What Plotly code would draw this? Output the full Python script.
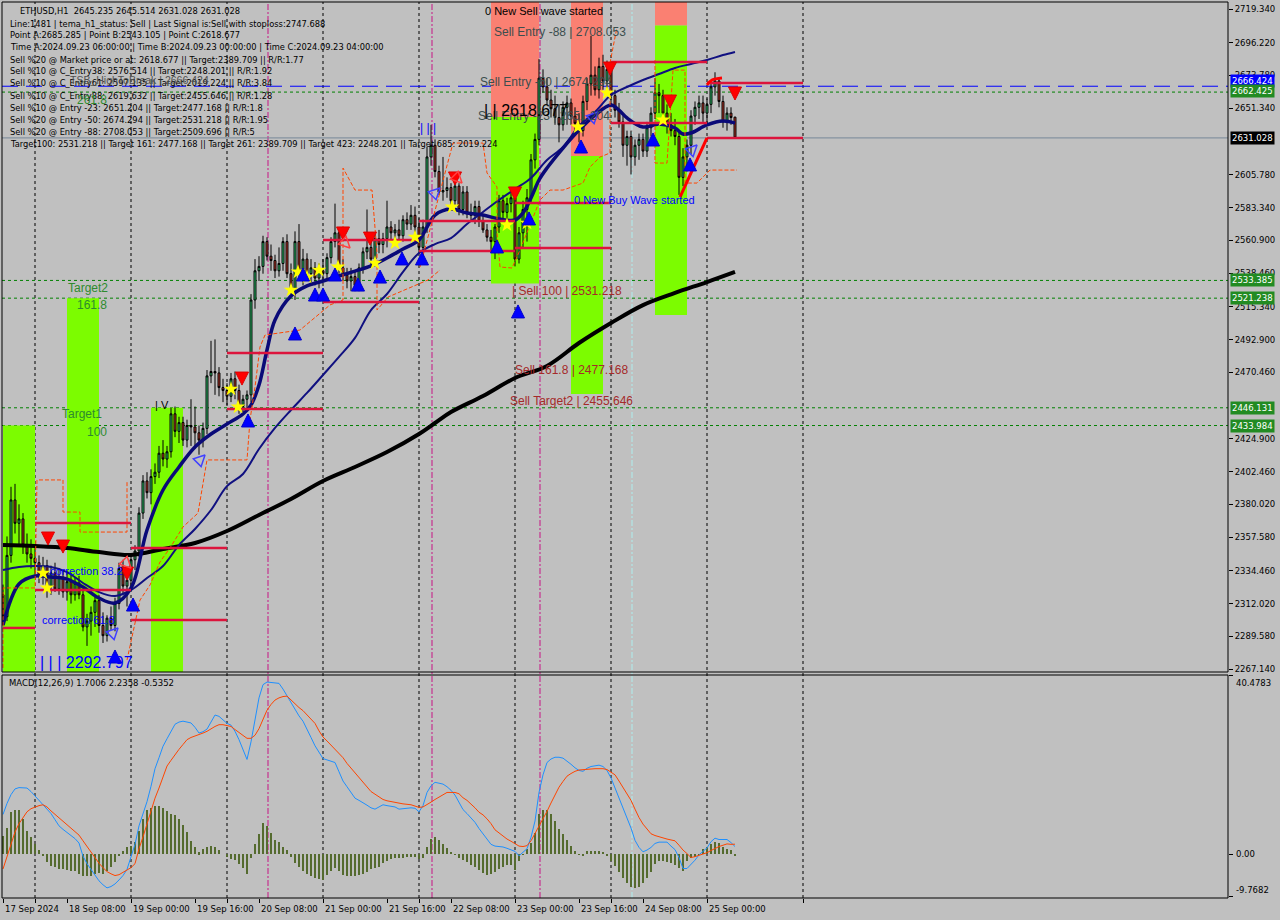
import plotly.graph_objects as go

# ---------------- DATA ----------------
opens = [2318,2303,2345,2383,2367,2370,2352,2346,2343,2340, 2331,2338,2324,2333,2322,2330,2320,2327,2318,2326,
         2318,2296,2300,2306,2314,2297,2290,2302,2297,2312, 2336,2324,2328,2342,2348,2374,2396,2388,2399,2402,
         2415,2411,2416,2442,2430,2436,2424,2434,2433,2429, 2424,2432,2468,2471,2470,2460,2458,2454,2466,2458,
         2447,2452,2455,2520,2540,2543,2560,2550,2547,2540, 2545,2560,2538,2528,2560,2540,2548,2538,2542,2535,
         2540,2538,2549,2560,2566,2542,2537,2533,2536,2530, 2542,2553,2556,2548,2562,2558,2562,2570,2566,2568,
         2564,2575,2572,2578,2570,2556,2570,2618,2626,2608, 2594,2595,2597,2588,2598,2582,2594,2580,2578,2584,
         2574,2568,2563,2560,2570,2588,2580,2586,2590,2548, 2566,2582,2590,2616,2630,2672,2666,2657,2651,2645,
         2640,2652,2655,2646,2641,2636,2656,2668,2674,2664, 2680,2670,2678,2660,2650,2642,2626,2632,2618,2626,
         2630,2622,2638,2648,2662,2660,2648,2640,2636,2632, 2604,2618,2626,2646,2652,2655,2648,2654,2666,2670,
         2656,2642,2648,2645.235]
highs = [2325,2358,2392,2394,2380,2374,2360,2356,2350,2345, 2344,2342,2338,2340,2336,2335,2334,2333,2330,2331,
         2322,2305,2310,2318,2318,2306,2304,2310,2316,2340, 2342,2332,2346,2352,2378,2400,2402,2404,2408,2420,
         2424,2420,2446,2447,2440,2440,2438,2452,2447,2434, 2436,2472,2492,2493,2474,2466,2463,2470,2471,2462,
         2455,2458,2524,2548,2550,2564,2563,2558,2551,2556, 2563,2565,2545,2567,2572,2555,2552,2548,2546,2545,
         2548,2552,2563,2586,2570,2548,2542,2542,2540,2545, 2556,2582,2562,2566,2568,2566,2588,2574,2572,2575,
         2578,2580,2585,2584,2576,2575,2625,2640,2630,2612, 2618,2604,2600,2604,2600,2598,2598,2586,2588,2588,
         2578,2572,2568,2572,2592,2592,2590,2596,2596,2570, 2588,2596,2620,2634,2685,2678,2672,2664,2660,2654,
         2656,2660,2658,2652,2648,2660,2672,2701,2680,2686, 2688,2684,2682,2664,2655,2646,2636,2636,2630,2634,
         2634,2642,2652,2672,2668,2664,2654,2648,2644,2636, 2624,2630,2650,2656,2660,2660,2658,2670,2676,2672,
         2660,2652,2652,2645.514]
lows = [2297,2300,2340,2360,2352,2346,2340,2336,2332,2326, 2325,2316,2318,2320,2318,2316,2314,2312,2314,2315,
        2293,2283,2290,2296,2292,2285,2286,2294,2293,2308, 2318,2310,2322,2335,2344,2370,2384,2380,2394,2398,
        2406,2405,2412,2426,2422,2420,2419,2420,2418,2414, 2419,2428,2463,2455,2454,2450,2448,2450,2452,2442,
        2442,2446,2450,2514,2533,2538,2547,2540,2535,2536, 2540,2535,2524,2520,2535,2530,2534,2530,2530,2528,
        2532,2534,2545,2556,2538,2533,2528,2526,2526,2526, 2538,2548,2544,2543,2552,2552,2556,2560,2558,2560,
        2560,2568,2568,2566,2552,2550,2566,2612,2604,2592, 2588,2590,2585,2584,2578,2578,2576,2574,2572,2570,
        2566,2560,2553,2548,2566,2576,2574,2580,2543,2545, 2555,2560,2586,2610,2626,2662,2654,2645,2640,2628,
        2636,2640,2640,2636,2628,2632,2650,2660,2660,2658, 2664,2662,2652,2645,2638,2618,2612,2606,2612,2616,
        2618,2618,2632,2644,2648,2642,2634,2632,2626,2592, 2598,2608,2620,2640,2644,2642,2640,2648,2660,2652,
        2638,2636,2640,2631.028]
closes = [2303,2345,2383,2367,2370,2352,2346,2343,2340,2331, 2338,2324,2333,2322,2330,2320,2327,2318,2326,2318,
          2296,2300,2306,2314,2297,2290,2302,2297,2312,2336, 2324,2328,2342,2348,2374,2396,2388,2399,2402,2415,
          2411,2416,2442,2430,2436,2424,2434,2433,2429,2424, 2432,2468,2471,2470,2460,2458,2454,2466,2458,2447,
          2452,2455,2520,2540,2543,2560,2550,2547,2540,2545, 2560,2538,2528,2560,2540,2548,2538,2542,2535,2540,
          2538,2549,2560,2566,2542,2537,2533,2536,2530,2542, 2553,2556,2548,2562,2558,2562,2570,2566,2568,2564,
          2575,2572,2578,2570,2556,2570,2618,2626,2608,2594, 2595,2597,2588,2598,2582,2594,2580,2578,2584,2574,
          2568,2563,2560,2570,2588,2580,2586,2590,2548,2566, 2582,2590,2616,2630,2672,2666,2657,2651,2645,2640,
          2652,2655,2646,2641,2636,2656,2668,2674,2664,2680, 2670,2678,2660,2650,2642,2626,2632,2618,2626,2630,
          2622,2638,2648,2662,2660,2648,2640,2636,2632,2604, 2618,2626,2646,2652,2655,2648,2654,2666,2670,2656,
          2642,2648,2645,2631.028]
bars = list(range(len(closes)))

macd_main = [9.0,11.5,13.5,14.8,15.1,15.1,15.0,14.2,13.2,12.4, 11.4,10.4,9.2,7.8,6.4,5.6,4.9,4.2,3.5,2.5,
             -0.5,-2.2,-3.6,-4.9,-6.1,-7.0,-7.7,-7.4,-6.8,-5.9, -4.9,-3.5,-0.8,2.2,6.4,9.3,11.9,15.4,19.4,21.9,
             24.5,26.2,28.0,29.5,30.0,30.2,30.0,29.8,28.8,27.5, 27.8,28.4,30.0,31.6,31.3,30.6,29.7,29.3,27.9,26.0,
             23.9,21.5,25.5,31.0,35.5,38.5,39.1,39.0,38.9,38.8, 37.5,36.0,34.3,32.8,31.4,30.2,28.5,26.5,24.6,23.0,
             21.7,21.4,21.1,20.8,18.7,16.6,15.3,14.0,12.7,12.2, 11.7,11.1,10.5,10.2,10.7,11.2,11.0,10.9,10.7,10.2,
             10.3,10.5,10.5,10.4,9.6,11.0,14.0,15.5,16.3,16.1, 15.9,15.3,14.5,13.4,11.8,10.1,9.2,8.2,7.2,5.8,
             4.6,3.4,2.2,1.8,1.7,1.6,1.3,1.0,0.6,-0.4, 0.3,1.2,3.8,7.5,14.0,18.0,20.8,21.6,22.0,22.0,
             21.8,21.2,20.4,19.6,19.0,18.8,19.5,19.9,20.0,20.2, 19.9,19.0,17.3,15.1,12.8,10.6,8.4,5.9,3.1,1.5,
             0.5,0.9,1.5,2.4,2.7,2.7,2.7,1.8,1.0,-0.8, -3.3,-3.3,-2.4,-1.4,-0.2,0.6,1.4,2.8,3.6,3.3,
             3.3,3.3,2.6,1.7006]
macd_signal = [-3.4,-0.5,2.5,5.0,6.9,8.2,9.6,10.3,10.7,11.0, 11.2,10.7,9.8,9.0,8.1,7.4,6.5,5.7,5.1,4.3,
               3.0,1.7,0.3,-1.0,-2.1,-3.1,-4.0,-4.5,-4.9,-4.7, -4.2,-3.6,-3.1,-2.2,1.2,3.9,6.8,9.5,12.7,15.0,
               17.6,20.0,21.3,22.7,23.8,24.9,26.0,26.5,26.8,27.1, 27.5,27.9,28.5,29.0,29.4,29.4,29.2,29.0,28.3,27.6,
               27.0,26.3,26.3,27.0,28.5,30.7,32.7,34.0,35.0,35.5, 35.8,35.9,35.0,34.2,33.3,32.6,31.7,30.7,29.7,28.0,
               26.6,25.7,24.8,23.9,23.0,21.9,20.6,19.5,18.4,17.4, 16.2,15.1,14.2,13.6,13.0,12.4,12.1,11.9,11.7,11.5,
               11.4,11.3,11.2,10.9,10.6,10.7,11.2,11.8,12.4,12.9, 13.5,14.0,14.0,14.0,13.7,12.8,12.2,11.4,10.5,9.5,
               8.9,8.0,6.9,5.5,4.8,4.0,3.4,2.9,2.3,1.8, 1.7,1.9,3.0,4.6,6.5,8.0,9.7,11.6,13.5,15.2,
               16.5,17.7,18.3,18.8,19.1,19.2,19.3,19.4,19.4,19.4, 19.4,19.2,18.6,18.0,16.6,15.2,13.6,12.2,10.2,8.3,
               6.8,5.6,4.6,4.2,3.9,3.7,3.4,3.2,3.0,2.0, 0.9,0.1,-0.8,-0.6,-0.3,0.1,0.3,0.8,1.3,1.7,
               2.0,2.3,2.2,2.2358]
macd_hist = [4.2,6.0,9.6,10.1,10.0,8.0,5.3,3.8,2.2,1.0, -0.4,-1.8,-2.7,-3.0,-3.4,-3.5,-3.6,-3.9,-3.9,-4.5,
             -5.0,-5.1,-4.9,-4.6,-4.3,-4.5,-3.8,-2.9,-1.9,-0.5, 0.6,1.6,1.9,2.8,5.3,8.0,10.0,10.5,10.9,10.9,
             10.4,9.8,9.2,8.8,7.9,6.7,5.0,3.0,1.6,0.4, 1.1,1.7,1.9,1.7,1.0,0.0,-0.6,-1.1,-1.4,-2.2,
             -3.2,-4.5,-1.0,2.2,4.6,7.0,6.4,4.8,3.3,2.7, 1.6,0.9,-0.6,-2.0,-2.9,-3.9,-4.5,-5.1,-5.5,-5.6,
             -5.8,-4.8,-3.8,-3.2,-3.8,-4.8,-5.0,-5.0,-5.0,-4.8, -4.5,-4.2,-3.5,-3.2,-2.9,-2.1,-1.6,-1.2,-0.9,-0.8,
             -0.8,-0.7,-0.6,-0.6,-1.1,-0.9,1.5,3.4,3.8,3.1, 2.3,1.4,0.5,-0.2,-0.9,-1.3,-1.9,-2.6,-3.0,-3.6,
             -4.4,-4.7,-4.6,-4.0,-3.4,-2.9,-2.5,-2.4,-3.6,-1.6, -0.1,1.2,2.4,4.7,9.0,10.1,10.1,9.1,7.4,5.8,
             4.6,3.2,1.9,0.6,-0.2,-0.3,0.8,0.6,0.6,0.7, 0.5,-0.3,-1.6,-2.8,-4.2,-5.4,-6.5,-7.4,-7.8,-7.5,
             -6.5,-5.5,-4.0,-2.3,-1.6,-1.6,-1.8,-2.1,-2.4,-3.1, -3.8,-1.5,-1.0,-0.7,-0.2,1.2,1.5,2.3,2.7,2.4,
             1.6,1.2,0.9,-0.5352]

# moving averages (sampled bar index, price)
fast_ma_idx = [0,4,8,12,16,20,24,28,32,36,40,44,48,52,56,60,62,64,66,68,72,76,80,84,88,92,96,100,104,108,112,116,
               120,124,128,130,132,134,136,140,144,148,152,154,156,160,164,168,170,172,176,180,183]
fast_ma_val = [2297.3,2325.4,2330.9,2330.2,2328.8,2323.3,2315.8,2312.4,2322.6,2362.4,2389.8,2405.6,2419.3,2428.2,
               2435.0,2441.9,2448.0,2461.7,2485.7,2506.3,2522.7,2529.6,2533.0,2536.4,2539.8,2543.3,2548.8,2554.9,
               2561.1,2578.2,2582.3,2579.6,2578.2,2575.5,2574.8,2579.6,2589.9,2602.2,2610.4,2624.1,2636.4,2646.7,
               2653.6,2650.1,2644.7,2638.5,2640.6,2637.8,2633.7,2634.4,2639.9,2642.6,2641.2]
slow_ma_idx = [0,4,8,12,16,20,24,28,32,36,40,44,48,52,56,60,64,68,72,76,80,84,88,92,96,100,104,108,112,116,120,124,
               128,132,136,140,144,148,152,156,160,164,168,172,176,180,183]
slow_ma_val = [2335.0,2337.1,2337.7,2337.1,2333.6,2326.1,2319.9,2317.2,2321.3,2329.5,2337.7,2352.1,2363.1,2376.1,
               2392.5,2400.8,2417.9,2432.3,2444.6,2456.3,2468.6,2481.0,2494.0,2513.1,2524.1,2539.2,2552.2,2558.3,
               2562.4,2572.0,2580.3,2588.5,2596.0,2603.6,2615.9,2624.8,2639.2,2648.8,2660.4,2665.9,2670.7,2674.8,
               2678.9,2681.7,2684.4,2687.8,2689.9]
ma200_idx = [0,8,16,24,32,40,48,56,64,72,80,88,96,104,108,112,120,128,136,144,152,160,168,176,183]
ma200_val = [2352.1,2351.4,2350.1,2347.3,2345.3,2349.4,2353.5,2361.7,2372.7,2383.7,2396.0,2405.6,2415.8,2428.2,
             2435.7,2443.2,2454.2,2466.5,2474.8,2490.5,2504.2,2516.5,2524.8,2532.3,2539.2]

# trailing stop (orange dashed), pieces separated by None
stop_idx = [0,0,8,8.5,15,15,19.25,19.25,31,31, None,
            31,34.25,36.75,39.25,41.75,45,48.75,50.5,51,61,61.75,63,64.25,65.5,74.25,81.75,85,85,88,92.25,93.5,93.5,
            96.25,106.25,109.25, None,
            104.25,112.5,120,121,123.5,123.5,124.25,127.25,129.25,134.25,136.75,140,145,146.75,149.25,151.75,151.75,
            153.5, None,
            163,163,166,167.5,170.5,170.5,173.5,176.75,183.5]
stop_val = [2267.9,2322.7,2322.7,2396.7,2396.7,2374.7,2374.7,2361.0,2361.0,2395.3, None,
            2273.3,2314.4,2324.7,2340.5,2350.1,2364.5,2374.0,2403.5,2410.4,2410.4,2437.8,2460.4,2487.8,2496.0,2499.4,
            2516.6,2520.0,2610.4,2595.3,2595.3,2552.2,2513.1,2522.0,2533.7,2540.5, None,
            2542.6,2627.5,2627.5,2607.0,2597.4,2565.9,2542.6,2541.9,2554.2,2588.5,2595.3,2595.3,2600.1,2611.1,
            2617.9,2620.7,2682.3,2707.0, None,
            2684.4,2613.8,2613.8,2677.5,2677.5,2600.1,2600.1,2609.0,2609.0]

# red horizontal levels (start bar, end bar, price)
seg_x0 = [0,8,8,32,32,56,56,80,80,104,104,128,128,152,152,176,176]
seg_x1 = [8,32,32,56,56,80,80,104,104,128,128,152,152,176,176,200,200]
seg_p = [2295.3,2367.2,2321.3,2350.1,2300.7,2483.7,2445.3,2561.1,2518.6,2574.1,2553.6,2586.4,2555.6,2683.0,
         2641.2,2668.6,2631.0]
trend_idx = [169.25, 176]
trend_val = [2590.5, 2631.0]
arc_idx = [176, 177.25, 179.75]
arc_val = [2667.3, 2670.7, 2672.1]

# zones
PMIN, PMAX = 2265.12, 2724.14
zone_x0 = [0, 16, 37, 122, 122, 142, 142, 163, 163]
zone_x1 = [8, 24, 45, 134, 134, 150, 150, 171, 171]
zone_lo = [PMIN, PMIN, PMIN, 2645.3, 2531.218, 2618.677, 2455.646, 2708.053, 2509.696]
zone_hi = [2433.984, 2521.238, 2446.131, PMAX, 2645.3, PMAX, 2618.677, PMAX, 2708.053]
zone_kind = ["buy", "buy", "buy", "sell", "buy", "sell", "buy", "sell", "buy"]

blue_level = 2666.424
green_levels = [2662.425, 2533.385, 2521.238, 2446.131, 2433.984]
last_price = 2631.028

# signals
up_idx = [28,32.5,61.25,73,75,78,80,83,88.75,94.25,99.75,104.75,123.5,128.75,131.5,144.5,162.5,171.75]
up_val = [2280.2,2315.8,2441.9,2501.5,2541.9,2528.2,2528.2,2541.9,2535.0,2540.5,2552.9,2552.9,2561.1,2516.6,
          2580.3,2629.6,2634.4,2617.3]
dn_idx = [11.25,15,31,59.75,85,91.75,113,128,151.75,166.75,183]
dn_val = [2352.1,2346.6,2328.1,2461.7,2561.1,2557.6,2598.8,2588.5,2674.1,2651.5,2657.0]
star_idx = [10,11,57,58.75,72,73.75,76,79,83.75,93,98,103,112.25,126,131,143.75,151,165]
star_val = [2332.9,2322.7,2459.0,2446.7,2526.8,2539.2,2535.7,2540.5,2542.6,2545.3,2559.0,2563.1,2583.7,2571.4,
            2572.7,2638.5,2661.8,2643.3]
hup_idx = [28.75, 50.5, 109.25, 148.75, 173.5]
hup_val = [2295.3, 2413.8, 2596.7, 2648.8, 2626.2]
hdn_idx = [32, 86.75, 114.75]
hdn_val = [2336.3, 2555.6, 2600.1]

price_ticks = [2719.340, 2696.220, 2673.780, 2651.340, 2605.780, 2583.340, 2560.900, 2538.460, 2515.340,
               2492.900, 2470.460, 2424.900, 2402.460, 2380.020, 2357.580, 2334.460, 2312.020, 2289.580, 2267.140]
time_idx = [0, 16, 32, 48, 64, 80, 96, 112, 128, 144, 160, 176]
time_text = ["17 Sep 2024", "18 Sep 08:00", "19 Sep 00:00", "19 Sep 16:00", "20 Sep 08:00", "21 Sep 00:00",
             "21 Sep 16:00", "22 Sep 08:00", "23 Sep 00:00", "23 Sep 16:00", "24 Sep 08:00", "25 Sep 00:00"]
extra_time_idx = [8, 56, 104, 152, 200]
day_sep_idx = [8, 32, 56, 80, 104, 128, 152, 176, 200]
magenta_idx = [66.25, 107.25, 134.25]
cyan_idx = [157.25]

info_lines = [
    "ETHUSD,H1  2645.235 2645.514 2631.028 2631.028",
    "Line:1481 | tema_h1_status: Sell | Last Signal is:Sell with stoploss:2747.688",
    "Point A:2685.285 | Point B:2543.105 | Point C:2618.677",
    "Time A:2024.09.23 06:00:00 | Time B:2024.09.23 00:00:00 | Time C:2024.09.23 04:00:00",
    "Sell %20 @ Market price or at: 2618.677 || Target:2389.709 || R/R:1.77",
    "Sell %10 @ C_Entry38: 2576.514 || Target:2248.201 || R/R:1.92",
    "Sell %10 @ C_Entry61: 2597.135 || Target:2019.224 || R/R:3.84",
    "Sell %10 @ C_Entry88: 2619.632 || Target:2455.646 || R/R:1.28",
    "Sell %10 @ Entry -23: 2651.204 || Target:2477.168 || R/R:1.8",
    "Sell %20 @ Entry -50: 2674.294 || Target:2531.218 || R/R:1.95",
    "Sell %20 @ Entry -88: 2708.053 || Target:2509.696 || R/R:5",
    "Target100: 2531.218 || Target 161: 2477.168 || Target 261: 2389.709 || Target 423: 2248.201 || Target 685: 2019.224",
]

# chart labels: text, bar index, price, color, size
labels = [
    ("0 New Sell wave started", 120, 2718.0, "#000000", 11),
    ("Sell Entry -88 | 2708.053", 122.25, 2703.6, "#3C4E4E", 12),
    ("Sell Entry -50 | 2674.294", 118.75, 2669.3, "#3C4E4E", 12),
    ("Sell Entry -23 | 2651.204", 118.25, 2646.0, "#3C4E4E", 12),
    ("| | 2618.677", 119.75, 2650.1, "#000000", 16),
    ("| | |", 103.75, 2637.8, "#0000FF", 12),
    ("0 New Buy Wave started", 142.25, 2588.5, "#0000FF", 11),
    ("| Sell 100 | 2531.218", 126.75, 2526.1, "#A52A2A", 12),
    ("Sell 161.8 | 2477.168", 127.5, 2472.0, "#A52A2A", 12),
    ("Sell Target2 | 2455.646", 126.25, 2450.8, "#A52A2A", 12),
    ("Target2", 15.75, 2528.2, "#2E8B2E", 12),
    ("161.8", 18, 2516.6, "#2E8B2E", 12),
    ("Target1", 14.25, 2441.9, "#2E8B2E", 12),
    ("100", 20.5, 2429.5, "#2E8B2E", 12),
    ("261.8", 18, 2657.0, "#2E8B2E", 12),
    ("correction 38.2", 11.25, 2334.3, "#0000FF", 11),
    ("correction 61.8", 9.25, 2300.7, "#0000FF", 11),
    ("| | | 2292.797", 8.75, 2271.3, "#0000FF", 16),
    ("TSB_HighToBreak | 2666.424", 16.25, 2670.7, "#505050", 10.5),
    ("| V", 37.5, 2448.0, "#000000", 11),
]

# ---------------- FIGURE ----------------
W, H = 1280, 920
ML, MR, MT, MB = 2, 52, 2, 22
PH = H - MT - MB
main_dom = [(898 - 672) / PH, 1.0]
macd_dom = [0.0, (898 - 675) / PH]
MACD_MIN, MACD_MAX = -10.0, 40.70
XMIN, XMAX = -0.25, 306.25

BG = "#C0C0C0"
UI_FONT = "DejaVu Sans"
OBJ_FONT = "Liberation Sans"

fig = go.Figure()

shapes = []
for x0, x1, lo, hi, k in zip(zone_x0, zone_x1, zone_lo, zone_hi, zone_kind):
    shapes.append(dict(type="rect", xref="x", yref="y", x0=x0, x1=x1, y0=lo, y1=hi,
                       fillcolor="#7CFC00" if k == "buy" else "#FA8072", line=dict(width=0), layer="below"))
for d in day_sep_idx:
    shapes.append(dict(type="line", xref="x", yref="paper", x0=d, x1=d, y0=0, y1=1,
                       line=dict(color="#000000", width=1, dash="3px,3px"), layer="below"))
for d in magenta_idx:
    shapes.append(dict(type="line", xref="x", yref="paper", x0=d, x1=d, y0=0, y1=1,
                       line=dict(color="#C71585", width=1, dash="6px,2px,2px,2px"), layer="below"))
for d in cyan_idx:
    shapes.append(dict(type="line", xref="x", yref="paper", x0=d, x1=d, y0=0, y1=1,
                       line=dict(color="#AEEEEE", width=1, dash="6px,2px,2px,2px"), layer="below"))
shapes.append(dict(type="line", xref="paper", yref="y", x0=0, x1=1, y0=blue_level, y1=blue_level,
                   line=dict(color="#0000FF", width=1, dash="16px,8px"), layer="below"))
for g in green_levels:
    shapes.append(dict(type="line", xref="paper", yref="y", x0=0, x1=1, y0=g, y1=g,
                       line=dict(color="#008000", width=1, dash="3px,3px"), layer="below"))
shapes.append(dict(type="line", xref="paper", yref="y", x0=0, x1=1, y0=last_price, y1=last_price,
                   line=dict(color="#778899", width=1), layer="below"))
# frames
shapes.append(dict(type="rect", xref="paper", yref="y domain", x0=0, x1=1, y0=0, y1=1,
                   line=dict(color="#000000", width=1), layer="above"))
shapes.append(dict(type="rect", xref="paper", yref="y2 domain", x0=0, x1=1, y0=0, y1=1,
                   line=dict(color="#000000", width=1), layer="above"))

# candles
fig.add_trace(go.Candlestick(
    x=bars, open=opens, high=highs, low=lows, close=closes,
    increasing=dict(line=dict(color="#000000", width=1), fillcolor="#2ECC71"),
    decreasing=dict(line=dict(color="#000000", width=1), fillcolor="#C0392B"),
    whiskerwidth=0, showlegend=False, hoverinfo="skip", xaxis="x", yaxis="y"))

# MAs
fig.add_trace(go.Scatter(x=ma200_idx, y=ma200_val, mode="lines", line=dict(color="#000000", width=4, shape="spline"),
                         xaxis="x", yaxis="y", showlegend=False, hoverinfo="skip"))
fig.add_trace(go.Scatter(x=slow_ma_idx, y=slow_ma_val, mode="lines", line=dict(color="#101080", width=2, shape="spline"),
                         xaxis="x", yaxis="y", showlegend=False, hoverinfo="skip"))
fig.add_trace(go.Scatter(x=fast_ma_idx, y=fast_ma_val, mode="lines", line=dict(color="#0A0A78", width=3.5, shape="spline"),
                         xaxis="x", yaxis="y", showlegend=False, hoverinfo="skip"))
# trailing stop
fig.add_trace(go.Scatter(x=stop_idx, y=stop_val, mode="lines", line=dict(color="#FF4500", width=1, dash="4px,2px"),
                         connectgaps=False, xaxis="x", yaxis="y", showlegend=False, hoverinfo="skip"))
# red levels
rx, ry = [], []
for a, b, p in zip(seg_x0, seg_x1, seg_p):
    rx += [a, b, None]
    ry += [p, p, None]
fig.add_trace(go.Scatter(x=rx, y=ry, mode="lines", line=dict(color="#DC143C", width=2.5),
                         xaxis="x", yaxis="y", showlegend=False, hoverinfo="skip"))
fig.add_trace(go.Scatter(x=trend_idx, y=trend_val, mode="lines", line=dict(color="#FF0000", width=3),
                         xaxis="x", yaxis="y", showlegend=False, hoverinfo="skip"))
fig.add_trace(go.Scatter(x=arc_idx, y=arc_val, mode="lines", line=dict(color="#FF0000", width=3, shape="spline"),
                         xaxis="x", yaxis="y", showlegend=False, hoverinfo="skip"))
# signal markers
fig.add_trace(go.Scatter(x=star_idx, y=star_val, mode="markers",
                         marker=dict(symbol="star", size=11, color="#FFFF00", line=dict(width=0)),
                         xaxis="x", yaxis="y", showlegend=False, hoverinfo="skip"))
fig.add_trace(go.Scatter(x=up_idx, y=up_val, mode="markers",
                         marker=dict(symbol="arrow-up", size=13, color="#0000FF", line=dict(width=1, color="#0000CC")),
                         xaxis="x", yaxis="y", showlegend=False, hoverinfo="skip"))
fig.add_trace(go.Scatter(x=dn_idx, y=dn_val, mode="markers",
                         marker=dict(symbol="arrow-down", size=13, color="#FF0000", line=dict(width=1, color="#DD0000")),
                         xaxis="x", yaxis="y", showlegend=False, hoverinfo="skip"))
fig.add_trace(go.Scatter(x=hup_idx, y=hup_val, mode="markers",
                         marker=dict(symbol="arrow-up-open", size=11, angle=45, color="#4040FF", line=dict(width=1.5)),
                         xaxis="x", yaxis="y", showlegend=False, hoverinfo="skip"))
fig.add_trace(go.Scatter(x=hdn_idx, y=hdn_val, mode="markers",
                         marker=dict(symbol="arrow-down-open", size=11, angle=-45, color="#FF4040", line=dict(width=1.5)),
                         xaxis="x", yaxis="y", showlegend=False, hoverinfo="skip"))

# MACD
fig.add_trace(go.Bar(x=bars, y=macd_hist, marker=dict(color="#556B2F", line=dict(width=0)), width=0.72,
                     xaxis="x", yaxis="y2", showlegend=False, hoverinfo="skip"))
fig.add_trace(go.Scatter(x=bars, y=macd_main, mode="lines", line=dict(color="#1E90FF", width=1),
                         xaxis="x", yaxis="y2", showlegend=False, hoverinfo="skip"))
fig.add_trace(go.Scatter(x=bars, y=macd_signal, mode="lines", line=dict(color="#FF4500", width=1),
                         xaxis="x", yaxis="y2", showlegend=False, hoverinfo="skip"))

ann = []
# info block
info_y = [11, 24, 35, 47, 60, 71, 83, 96, 108, 120, 132, 144]
for k, (t, py) in enumerate(zip(info_lines, info_y)):
    px = 18 if k == 0 else 8
    ann.append(dict(text=t, xref="paper", yref="paper", x=0, y=1, xanchor="left", yanchor="middle",
                    xshift=px - ML, yshift=-(py - MT), showarrow=False,
                    font=dict(family=UI_FONT, size=8.3, color="#000000")))
# chart labels
for t, xi, p, c, s in labels:
    ann.append(dict(text=t, xref="x", yref="y", x=xi, y=p, xanchor="left", yanchor="middle", showarrow=False,
                    font=dict(family=OBJ_FONT, size=s, color=c)))
# time labels
for xi, t in zip(time_idx, time_text):
    ann.append(dict(text=t, xref="x", yref="paper", x=xi, y=0, xanchor="left", yanchor="top",
                    xshift=0, yshift=-4, showarrow=False, font=dict(family=UI_FONT, size=8.5, color="#000000")))
# price boxes
boxes = [(blue_level, "#0000FF", 5)] + [(g, "#228B22", 1 if g == 2662.425 else 0) for g in green_levels] + \
        [(last_price, "#000000", 0)]
for v, col, ys in boxes:
    ann.append(dict(text="%.3f" % v, xref="paper", yref="y", x=1, y=v, xanchor="left", yanchor="middle",
                    xshift=2, yshift=ys, showarrow=False, bgcolor=col, borderpad=1,
                    font=dict(family=UI_FONT, size=8.5, color="#FFFFFF")))
# MACD labels
ann.append(dict(text="MACD(12,26,9) 1.7006 2.2358 -0.5352", xref="paper", yref="y2 domain", x=0, y=1,
                xanchor="left", yanchor="middle", xshift=5, yshift=-8, showarrow=False,
                font=dict(family=UI_FONT, size=8.5, color="#000000")))
for v, txt, ya in [(40.4783, "40.4783", "top"), (0.0, "0.00", "middle"), (-9.7682, "-9.7682", "bottom")]:
    ann.append(dict(text=txt, xref="paper", yref="y2", x=1, y=v, xanchor="left", yanchor=ya, xshift=6,
                    showarrow=False, font=dict(family=UI_FONT, size=8.5, color="#000000")))

fig.update_layout(
    width=W, height=H, autosize=False,
    margin=dict(l=ML, r=MR, t=MT, b=MB, pad=0),
    paper_bgcolor=BG, plot_bgcolor=BG,
    shapes=shapes, annotations=ann, showlegend=False, bargap=0,
    xaxis=dict(domain=[0, 1], range=[XMIN, XMAX], anchor="y2", showgrid=False, zeroline=False,
               rangeslider=dict(visible=False), tickvals=time_idx + extra_time_idx,
               ticktext=[""] * (len(time_idx) + len(extra_time_idx)),
               ticks="outside", ticklen=4, tickcolor="#000000", showline=False),
    yaxis=dict(domain=main_dom, range=[PMIN, PMAX], side="right", anchor="x", showgrid=False, zeroline=False,
               tickvals=price_ticks, ticktext=["%.3f" % v for v in price_ticks], ticks="outside", ticklen=4,
               tickcolor="#000000", tickfont=dict(family=UI_FONT, size=8.5, color="#000000"), showline=False),
    yaxis2=dict(domain=macd_dom, range=[MACD_MIN, MACD_MAX], side="right", anchor="x", showgrid=False,
                zeroline=False, tickvals=[40.4783, 0, -9.7682], ticktext=["", "", ""], ticks="outside",
                ticklen=4, tickcolor="#000000", showline=False),
)

fig.write_html("out.html", config={"displayModeBar": False},
               post_script="document.body.style.margin='0px';document.body.style.background='#C0C0C0';")
